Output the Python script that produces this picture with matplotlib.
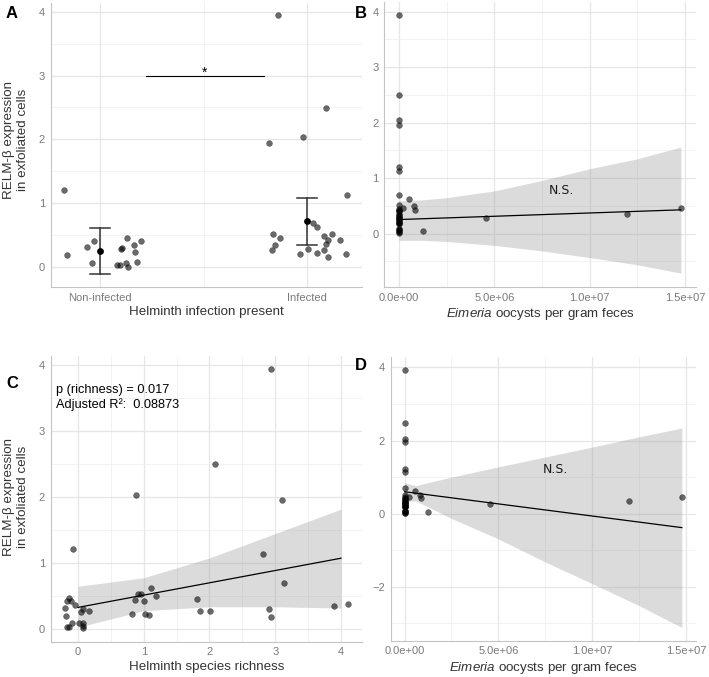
import numpy as np
import matplotlib
matplotlib.use("Agg")
import matplotlib.pyplot as plt
from matplotlib.ticker import FixedLocator, FuncFormatter

plt.rcParams.update({
    "font.family": "Liberation Sans",
    "mathtext.fontset": "custom",
    "mathtext.rm": "Liberation Sans",
    "mathtext.it": "Liberation Sans:italic",
})

# ---- data ----
# A: RELM-beta by helminth infection (jittered x positions)
noninf_x = [0.828, 0.842, 0.939, 0.969, 0.963, 1.100, 1.105, 1.129, 1.080, 1.097,
            1.126, 1.134, 1.166, 1.169, 1.179, 1.196]
noninf_y = [1.21, 0.19, 0.31, 0.41, 0.07, 0.28, 0.30, 0.45, 0.03, 0.04,
            0.07, 0.01, 0.35, 0.24, 0.08, 0.41]
inf_x = [1.860, 1.816, 1.982, 2.090, 2.195, 1.836, 1.844, 1.833, 1.871, 1.966, 2.006,
         2.029, 2.050, 2.050, 2.084, 2.100, 2.090, 2.120, 2.080, 2.100, 2.160, 2.187]
inf_y = [3.94, 1.95, 2.04, 2.49, 1.135, 0.52, 0.34, 0.27, 0.45, 0.21, 0.29,
         0.69, 0.625, 0.22, 0.49, 0.42, 0.365, 0.525, 0.275, 0.165, 0.43, 0.20]
group_pos = [1, 2]
group_labels = ["Non-infected", "Infected"]
group_mean = [0.255, 0.724]
group_lo = [-0.11, 0.355]
group_hi = [0.615, 1.09]
sig_span = [1.22, 1.79]
sig_y = 3.0

# B / D: Eimeria oocysts per gram feces
eim_x = [0] * 31 + [0.23e6, 0.54e6, 0.80e6, 0.86e6, 1.24e6, 4.56e6, 11.95e6, 14.78e6]
eim_y = [3.94, 2.49, 2.04, 1.95, 1.21, 1.13, 0.69, 0.52, 0.45, 0.43, 0.41, 0.41,
         0.35, 0.34, 0.31, 0.30, 0.29, 0.28, 0.27, 0.24, 0.22, 0.21, 0.20, 0.19,
         0.17, 0.08, 0.08, 0.07, 0.04, 0.03, 0.01,
         0.455, 0.63, 0.50, 0.42, 0.04, 0.275, 0.36, 0.455]

b_line_x = [0, 14.78e6]
b_line_y = [0.255, 0.43]
b_band_x = [0, 1.25e6, 2.5e6, 5e6, 7.5e6, 10e6, 12.5e6, 14.78e6]
b_band_lo = [-0.12, -0.12, -0.14, -0.21, -0.31, -0.43, -0.56, -0.71]
b_band_hi = [0.59, 0.61, 0.65, 0.77, 0.96, 1.17, 1.35, 1.56]

d_line_x = [0, 14.78e6]
d_line_y = [0.60, -0.38]
d_band_x = [0, 0.6e6, 2.5e6, 5e6, 7.5e6, 10e6, 12.5e6, 14.78e6]
d_band_lo = [0.34, 0.35, -0.13, -0.69, -1.32, -1.91, -2.51, -3.11]
d_band_hi = [0.84, 0.77, 1.00, 1.28, 1.55, 1.82, 2.10, 2.34]

# C: helminth species richness (jittered)
rich_x = [2.93, 2.086, 0.884, 3.11, -0.08, 2.81, 3.13, 1.116, 1.18, 0.92, 0.955, 0.874,
          1.01, 0.82, 1.015, 1.076, 1.81, 1.86, 2.005, 2.90, 2.94, 3.90, 4.10,
          -0.13, -0.16, -0.11, -0.05, -0.20, -0.18, -0.17, -0.13, -0.09, 0.01,
          0.045, 0.07, 0.17, 0.08, 0.076, 0.07]
rich_y = [3.93, 2.49, 2.03, 1.95, 1.21, 1.13, 0.69, 0.62, 0.49, 0.52, 0.53, 0.43,
          0.42, 0.22, 0.22, 0.20, 0.45, 0.27, 0.27, 0.29, 0.17, 0.34, 0.37,
          0.46, 0.41, 0.42, 0.35, 0.31, 0.19, 0.02, 0.02, 0.08, 0.08,
          0.25, 0.29, 0.27, 0.08, 0.015, 0.04]
c_line_x = [0, 4]
c_line_y = [0.32, 1.066]
c_band_x = [0, 1, 2, 3, 4]
c_band_lo = [0.02, 0.27, 0.33, 0.33, 0.31]
c_band_hi = [0.64, 0.77, 1.07, 1.44, 1.81]

ylab = "RELM-\u03b2 expression\nin exfoliated cells"
eim_lab = r"$\mathit{Eimeria}$ oocysts per gram feces"

# ---- figure ----
W, H = 709, 677
fig = plt.figure(figsize=(W / 100, H / 100), dpi=100)


def px_axes(left, top, right, bottom):
    return fig.add_axes([left / W, 1 - bottom / H, (right - left) / W, (bottom - top) / H])


def style(ax, xmaj, xmin, ymaj, ymin):
    for s in ["top", "right"]:
        ax.spines[s].set_visible(False)
    for s in ["left", "bottom"]:
        ax.spines[s].set_color("#c4c4c4")
        ax.spines[s].set_linewidth(0.8)
    ax.xaxis.set_major_locator(FixedLocator(xmaj))
    ax.xaxis.set_minor_locator(FixedLocator(xmin))
    ax.yaxis.set_major_locator(FixedLocator(ymaj))
    ax.yaxis.set_minor_locator(FixedLocator(ymin))
    ax.grid(True, which="major", color="#e6e6e6", lw=0.9)
    ax.grid(True, which="minor", color="#f0f0f0", lw=0.6)
    ax.set_axisbelow(True)
    ax.tick_params(which="both", length=0, labelsize=8, labelcolor="#7a7a7a", pad=4)


pt_kw = dict(s=17, color="#000000", alpha=0.58, edgecolors="#111111", linewidths=0.4,
             zorder=3)
band_kw = dict(color="#999999", alpha=0.35, lw=0, zorder=1)
title_kw = dict(fontsize=9.6, color="#333333", labelpad=2.5)
sci = FuncFormatter(lambda v, p: f"{v:.1e}")

# A
axA = px_axes(50.5, 2.7, 361.7, 287)
axA.scatter(noninf_x, noninf_y, **pt_kw)
axA.scatter(inf_x, inf_y, **pt_kw)
for xp, m, lo, hi in zip(group_pos, group_mean, group_lo, group_hi):
    axA.plot([xp, xp], [lo, hi], color="#333333", lw=1.1, zorder=4)
    axA.plot([xp - 0.05, xp + 0.05], [lo, lo], color="#333333", lw=1.1, zorder=4)
    axA.plot([xp - 0.05, xp + 0.05], [hi, hi], color="#333333", lw=1.1, zorder=4)
axA.scatter(group_pos, group_mean, s=15, color="black", zorder=5)
axA.plot(sig_span, [sig_y, sig_y], color="black", lw=0.8)
axA.text(np.mean(sig_span), sig_y - 0.02, "*", ha="center", va="baseline", fontsize=10)
axA.set_xlim(0.761, 2.264)
axA.set_ylim(-0.31, 4.14)
style(axA, group_pos, [1.5], [0, 1, 2, 3, 4], [0.5, 1.5, 2.5, 3.5])
axA.set_xticklabels(group_labels)
axA.set_xlabel("Helminth infection present", **title_kw)

# B
axB = px_axes(384.3, 2.2, 695.7, 287)
axB.fill_between(b_band_x, b_band_lo, b_band_hi, **band_kw)
axB.plot(b_line_x, b_line_y, color="black", lw=0.9, zorder=2)
axB.scatter(eim_x, eim_y, **pt_kw)
axB.text(8.5e6, 0.77, "N.S.", ha="center", va="center", fontsize=9,
         family="DejaVu Sans", color="#1a1a1a")
axB.set_xlim(-0.77e6, 1.556e7)
axB.set_ylim(-0.96, 4.17)
style(axB, [0, 5e6, 1e7, 1.5e7], [2.5e6, 7.5e6, 1.25e7], [0, 1, 2, 3, 4],
      [-0.5, 0.5, 1.5, 2.5, 3.5])
axB.xaxis.set_major_formatter(sci)
axB.set_xlabel(eim_lab, **title_kw)

# C
axC = px_axes(50.7, 355.7, 361.7, 641.5)
axC.fill_between(c_band_x, c_band_lo, c_band_hi, **band_kw)
axC.plot(c_line_x, c_line_y, color="black", lw=0.9, zorder=2)
axC.scatter(rich_x, rich_y, **pt_kw)
axC.text(-0.33, 3.50, "p (richness) = 0.017\nAdjusted R\u00b2:  0.08873", ha="left",
         va="center", fontsize=9.2, color="black", linespacing=1.2)
axC.set_xlim(-0.415, 4.315)
axC.set_ylim(-0.197, 4.137)
style(axC, [0, 1, 2, 3, 4], [0.5, 1.5, 2.5, 3.5], [0, 1, 2, 3, 4],
      [0.5, 1.5, 2.5, 3.5])
axC.set_xlabel("Helminth species richness", **title_kw)

# D
axD = px_axes(390.7, 356.7, 695.7, 640.7)
axD.fill_between(d_band_x, d_band_lo, d_band_hi, **band_kw)
axD.plot(d_line_x, d_line_y, color="black", lw=0.9, zorder=2)
axD.scatter(eim_x, eim_y, **pt_kw)
axD.text(8.06e6, 1.20, "N.S.", ha="center", va="center", fontsize=9,
         family="DejaVu Sans", color="#1a1a1a")
axD.set_xlim(-0.74e6, 1.552e7)
axD.set_ylim(-3.47, 4.29)
style(axD, [0, 5e6, 1e7, 1.5e7], [2.5e6, 7.5e6, 1.25e7], [-2, 0, 2, 4],
      [-3, -1, 1, 3])
axD.xaxis.set_major_formatter(sci)
axD.set_xlabel(eim_lab, **title_kw)

# shared y labels and panel letters
for yc in [140, 497]:
    fig.text(16 / W, 1 - yc / H, ylab, rotation=90, ha="center", va="center",
             fontsize=9.6, color="#333333", linespacing=1.15)
for lab, (lx, ly) in zip("ABCD", [(12, 14), (361, 14), (12, 383), (361, 366)]):
    fig.text(lx / W, 1 - ly / H, lab, ha="center", va="center", fontsize=12,
             fontweight="bold", color="black")

fig.savefig("out.png", dpi=100)
